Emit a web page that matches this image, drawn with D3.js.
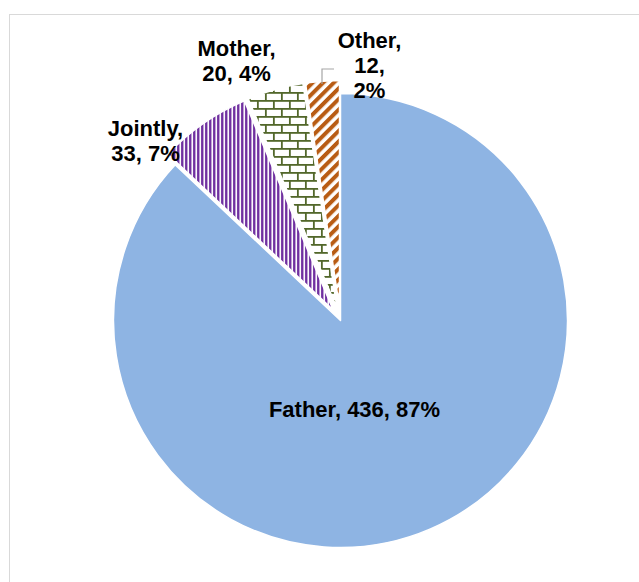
<!DOCTYPE html>
<html>
<head>
<meta charset="utf-8">
<script src="https://cdn.jsdelivr.net/npm/d3@7"></script>
<style>
  html, body { margin: 0; padding: 0; background: #ffffff; }
  svg { display: block; }
  .lbl { font-family: "Liberation Sans", Arial, sans-serif; font-weight: bold; font-size: 22px; fill: #000; }
</style>
</head>
<body>
<svg id="chart" width="639" height="582"></svg>
<script>
// Who makes the decision — count of respondents
const categories = ["Father", "Jointly", "Mother", "Other"];
const counts = [436, 33, 20, 12];
const percentLabels = ["87%", "7%", "4%", "2%"];

// Styling per slice
const fills = {
  Father: "#8eb4e3",
  Jointly: "url(#pat-jointly)",
  Mother: "url(#pat-mother)",
  Other: "url(#pat-other)"
};
const explode = { Father: 0, Jointly: 13, Mother: 13, Other: 13 };

// Label layout: anchor relative to pie centre, lines of text
const labelLayout = {
  Father:  { dx: 14,   dy: 88,   lines: (c, v, p) => [`${c}, ${v}, ${p}`] },
  Jointly: { dx: -195, dy: -180, lines: (c, v, p) => [`${c},`, `${v}, ${p}`] },
  Mother:  { dx: -104, dy: -260, lines: (c, v, p) => [`${c},`, `${v}, ${p}`] },
  Other:   { dx: 29,   dy: -256, lines: (c, v, p) => [`${c},`, `${v},`, p] }
};
const lineGap = 25;

const W = 639, H = 582;
const cx = 340.5, cy = 320.5, R = 227;

const svg = d3.select("#chart");
const defs = svg.append("defs");

// Vertical purple stripes
const pj = defs.append("pattern").attr("id", "pat-jointly")
  .attr("patternUnits", "userSpaceOnUse").attr("width", 4).attr("height", 4);
pj.append("rect").attr("width", 4).attr("height", 4).attr("fill", "#fff");
pj.append("rect").attr("x", 0).attr("width", 2.4).attr("height", 4).attr("fill", "#7030a0");

// Olive horizontal brick
const pm = defs.append("pattern").attr("id", "pat-mother")
  .attr("patternUnits", "userSpaceOnUse").attr("width", 16).attr("height", 16);
pm.append("rect").attr("width", 16).attr("height", 16).attr("fill", "#fff");
const brick = "#52672a";
const bw = 1.8;
pm.append("rect").attr("x", 0).attr("y", 0).attr("width", 16).attr("height", bw).attr("fill", brick);
pm.append("rect").attr("x", 0).attr("y", 8).attr("width", 16).attr("height", bw).attr("fill", brick);
pm.append("rect").attr("x", 0).attr("y", 0).attr("width", bw).attr("height", 8).attr("fill", brick);
pm.append("rect").attr("x", 8).attr("y", 8).attr("width", bw).attr("height", 8).attr("fill", brick);

// Wide upward diagonal brown stripes
const po = defs.append("pattern").attr("id", "pat-other")
  .attr("patternUnits", "userSpaceOnUse").attr("width", 7.5).attr("height", 7.5)
  .attr("patternTransform", "rotate(45)");
po.append("rect").attr("width", 7.5).attr("height", 7.5).attr("fill", "#fff");
po.append("rect").attr("x", 0).attr("width", 4).attr("height", 7.5).attr("fill", "#b85c14");

// Outer frame
svg.append("rect")
  .attr("x", 9.5).attr("y", 14.5)
  .attr("width", W).attr("height", H)
  .attr("fill", "none").attr("stroke", "#d9d9d9").attr("stroke-width", 1);

const data = categories.map((c, i) => ({ cat: c, value: counts[i], pct: percentLabels[i] }));

const pie = d3.pie().value(d => d.value).sort(null).startAngle(0).endAngle(2 * Math.PI);
const arcs = pie(data);
const arc = d3.arc().innerRadius(0).outerRadius(R);

const g = svg.append("g").attr("transform", `translate(${cx},${cy})`);

g.selectAll("path.slice")
  .data(arcs)
  .join("path")
  .attr("class", "slice")
  .attr("transform", d => {
    const a = (d.startAngle + d.endAngle) / 2;
    const e = explode[d.data.cat];
    return `translate(${e * Math.sin(a)},${-e * Math.cos(a)})`;
  })
  .attr("d", arc)
  .attr("fill", d => fills[d.data.cat])
  .attr("stroke", "#fff")
  .attr("stroke-width", 1.5)
  .attr("stroke-linejoin", "round");

// Leader line for the smallest slice
g.append("path")
  .attr("d", `M${-18.5},${-236.5} L${-18.5},${-251.5} L${-6.5},${-251.5}`)
  .attr("fill", "none").attr("stroke", "#a6a6a6").attr("stroke-width", 1.2);

// Data labels
arcs.forEach(d => {
  const L = labelLayout[d.data.cat];
  const lines = L.lines(d.data.cat, d.data.value, d.data.pct);
  const t = g.append("text").attr("class", "lbl").attr("text-anchor", "middle");
  const y0 = L.dy - (lines.length - 1) * lineGap / 2 + 8;
  lines.forEach((s, i) => {
    t.append("tspan").attr("x", L.dx).attr("y", y0 + i * lineGap).text(s);
  });
});
</script>
</body>
</html>
